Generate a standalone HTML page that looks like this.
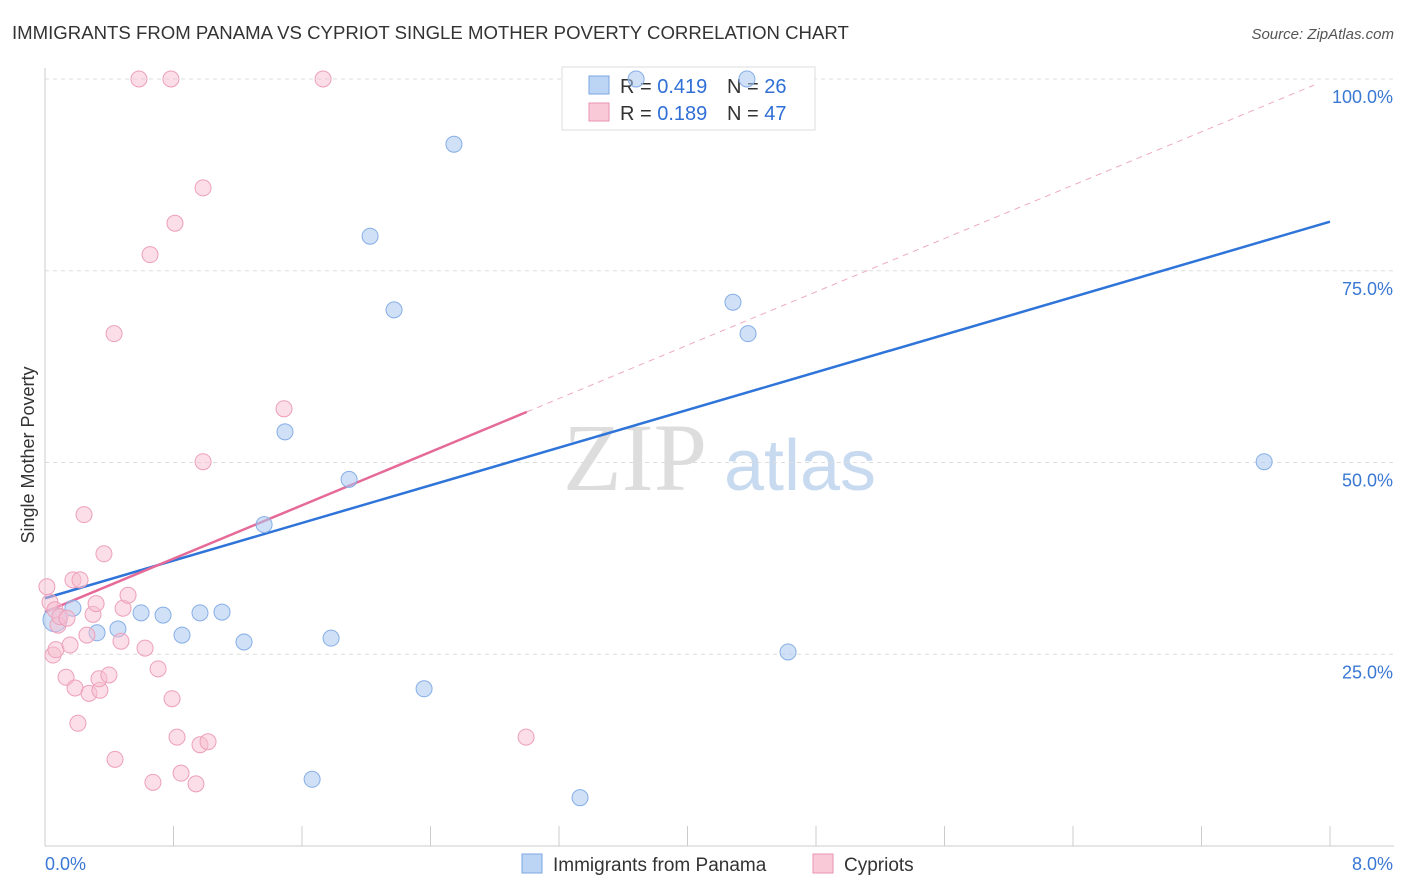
<!DOCTYPE html>
<html><head><meta charset="utf-8"><style>
body{margin:0;background:#fff;font-family:"Liberation Sans",sans-serif;}
svg{display:block}
</style></head><body>
<svg id="chart" width="1406" height="892">
<text x="12" y="39" font-size="18.6" fill="#333">IMMIGRANTS FROM PANAMA VS CYPRIOT SINGLE MOTHER POVERTY CORRELATION CHART</text>
<text x="1394" y="39" font-size="15" fill="#555" font-style="italic" text-anchor="end">Source: ZipAtlas.com</text>
<text x="34" y="455" font-size="18" fill="#333" text-anchor="middle" transform="rotate(-90 34 455)">Single Mother Poverty</text>
<g><text x="635" y="490" font-size="96" fill="#ddd" font-family="Liberation Serif,serif" text-anchor="middle">ZIP</text><text x="800" y="490" font-size="72" fill="#c8daf0" text-anchor="middle">atlas</text></g>
<g id="grid"></g><g id="axes"></g>
<g>
<rect x="562" y="67" width="253" height="63" fill="#fff" stroke="#ddd"/>
<rect x="589" y="76" width="20" height="18" fill="#bcd5f5" stroke="#7aa6e0"/>
<rect x="589" y="103" width="20" height="18" fill="#f9c9d7" stroke="#e895b0"/>
<text x="620" y="93" font-size="20" fill="#333">R = <tspan fill="#2f6fd6">0.419</tspan><tspan x="727">N = </tspan><tspan fill="#2f6fd6">26</tspan></text>
<text x="620" y="120" font-size="20" fill="#333">R = <tspan fill="#2f6fd6">0.189</tspan><tspan x="727">N = </tspan><tspan fill="#2f6fd6">47</tspan></text>
</g>
<g id="lines"></g><g id="pts"></g>
<g>
<rect x="522" y="854" width="20" height="19" fill="#bcd5f5" stroke="#7aa6e0"/>
<text x="553" y="871" font-size="19" fill="#333">Immigrants from Panama</text>
<rect x="813" y="854" width="20" height="19" fill="#f9c9d7" stroke="#e895b0"/>
<text x="844" y="871" font-size="19" fill="#333">Cypriots</text>
</g>
</svg>
<script>
const xTicks=[0,0.8,1.6,2.4,3.2,4.0,4.8,5.6,6.4,7.2,8.0];
const yTicks=[25,50,75,100];
const blueX=[0.062,0.174,0.324,0.454,0.598,0.735,0.853,0.965,1.102,1.239,1.364,1.494,1.663,1.781,1.893,2.024,2.173,2.36,2.546,3.331,3.68,4.37,4.283,4.377,4.626,7.59];
const blueY=[29.5,31.0,27.8,28.3,30.4,30.1,27.5,30.4,30.5,26.6,41.9,54.0,8.7,27.1,47.8,79.5,69.9,20.5,91.5,6.3,100,100,70.9,66.8,25.3,50.1];
const pinkX=[0.012,0.031,0.062,0.081,0.05,0.068,0.093,0.137,0.131,0.156,0.174,0.218,0.187,0.205,0.243,0.261,0.274,0.299,0.318,0.342,0.367,0.336,0.398,0.436,0.473,0.486,0.517,0.585,0.623,0.654,0.672,0.704,0.784,0.791,0.809,0.822,0.847,0.94,0.965,0.984,0.984,1.015,0.43,1.488,1.731,2.995];
const pinkY=[33.8,31.8,30.8,28.8,24.9,25.6,29.9,29.7,22.0,26.2,34.7,34.7,20.6,16.0,43.2,27.5,19.9,30.2,31.6,20.3,38.1,21.8,22.3,11.3,26.7,31.0,32.7,100,25.8,77.1,8.3,23.1,100,19.2,81.2,14.2,9.5,8.1,13.2,85.8,50.1,13.6,66.8,57.0,100,14.2];
const blueTrend=[0,32.3,8,81.4];
const pinkTrend=[0,30.5,3.0,56.6];
const pinkDash=[3.0,56.6,7.9,99.2];
const sx=v=>45+v/8*1285, sy=v=>846-v/100*767;
const NS='http://www.w3.org/2000/svg';
function mk(p,t,a){const e=document.createElementNS(NS,t);for(const k in a)e.setAttribute(k,a[k]);document.getElementById(p).appendChild(e);return e;}
yTicks.forEach(t=>{
 const l=mk('grid','line',{x1:45,x2:1394,y1:sy(t),y2:sy(t),stroke:'#ddd','stroke-dasharray':'4,4'});
 
 
 const tx=mk('grid','text',{x:1393,y:sy(t)+24,'font-size':18,fill:'#3a78d4','text-anchor':'end'});tx.textContent=t.toFixed(1)+'%';
 
 
});
mk('axes','line',{x1:45,x2:45,y1:68,y2:846,stroke:'#ccc'});
mk('axes','line',{x1:45,x2:1394,y1:846,y2:846,stroke:'#ccc'});
xTicks.forEach(t=>{const l=mk('axes','line',{x1:sx(t),x2:sx(t),y1:826,y2:846,stroke:'#ccc'});
 
 });
const a=mk('axes','text',{x:45,y:870,'font-size':18,fill:'#3a78d4'});a.textContent=xTicks[0].toFixed(1)+'%';


const b=mk('axes','text',{x:1393,y:870,'font-size':18,fill:'#3a78d4','text-anchor':'end'});b.textContent=xTicks[xTicks.length-1].toFixed(1)+'%';


blueX.forEach((x,i)=>{const c=mk('pts','circle',{cx:sx(x),cy:sy(blueY[i]),r:i==0?12:8,fill:'rgba(170,200,240,0.55)',stroke:'#86aee6','stroke-width':1});
 
 });
pinkX.forEach((x,i)=>{const c=mk('pts','circle',{cx:sx(x),cy:sy(pinkY[i]),r:8,fill:'rgba(248,190,208,0.5)',stroke:'#eda0ba','stroke-width':1});
 
 });
const bl=mk('lines','line',{x1:sx(blueTrend[0]),y1:sy(blueTrend[1]),x2:sx(blueTrend[2]),y2:sy(blueTrend[3]),stroke:'#2f74d8','stroke-width':2.5});


const pl=mk('lines','line',{x1:sx(pinkTrend[0]),y1:sy(pinkTrend[1]),x2:sx(pinkTrend[2]),y2:sy(pinkTrend[3]),stroke:'#e66a98','stroke-width':2.5});


const pd=mk('lines','line',{x1:sx(pinkDash[0]),y1:sy(pinkDash[1]),x2:sx(pinkDash[2]),y2:sy(pinkDash[3]),stroke:'#eeaac0','stroke-width':1,'stroke-dasharray':'6,5'});


</script>
</body></html>
